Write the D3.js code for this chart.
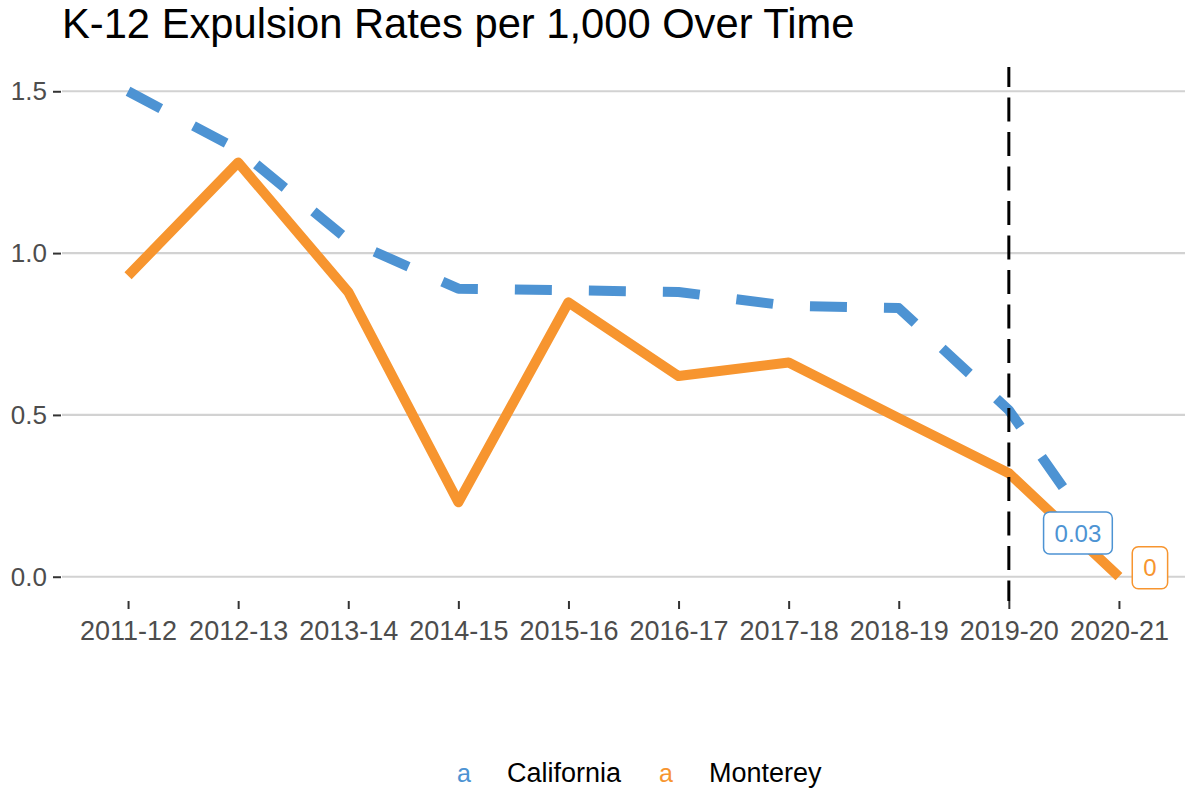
<!DOCTYPE html>
<html>
<head>
<meta charset="utf-8">
<script src="https://cdn.jsdelivr.net/npm/d3@7"></script>
<style>
	body { margin: 0; background: #fff; }
	svg { display: block; font-family: "Liberation Sans", Arial, sans-serif; }
</style>
</head>
<body>
<div id="chart"></div>
<script>
// data
var years = ['2011-12', '2012-13', '2013-14', '2014-15', '2015-16', '2016-17', '2017-18', '2018-19', '2019-20', '2020-21'];
var california = [1.50, 1.32, 1.04, 0.89, 0.885, 0.88, 0.837, 0.83, 0.515, 0.03];
var monterey = [0.93, 1.28, 0.88, 0.23, 0.848, 0.62, 0.662, 0.49, 0.32, 0];
var yTicks = [0, 0.5, 1.0, 1.5];
var seriesNames = ['California', 'Monterey'];
var markerYear = '2019-20';

var Chart = {

	WIDTH: 1186,
	HEIGHT: 794,
	PANEL: { left: 62, right: 1185, top: 67, bottom: 601 },
	COLORS: { California: '#4d93d3', Monterey: '#f7952f' },
	AXIS_TEXT: '#4d4d4d',

	init: function() {
		var svg = d3.select('#chart').append('svg')
			.attr('width', Chart.WIDTH)
			.attr('height', Chart.HEIGHT);

		var x = d3.scalePoint()
			.domain(years)
			.range([Chart.PANEL.left, Chart.PANEL.right])
			.padding(0.6);

		var y = d3.scaleLinear()
			.domain([-0.075, 1.575])
			.range([Chart.PANEL.bottom, Chart.PANEL.top]);

		var series = [
			{ name: 'California', values: california, dash: '37,37' },
			{ name: 'Monterey', values: monterey, dash: null }
		];

		Chart.drawTitle(svg);
		Chart.drawGrid(svg, y);
		Chart.drawAxes(svg, x, y);
		Chart.drawLines(svg, x, y, series);
		Chart.drawMarker(svg, x);
		Chart.drawLabels(svg, x, y, series);
		Chart.drawLegend(svg);
	},

	drawTitle: function(svg) {
		svg.append('text')
			.attr('x', 62)
			.attr('y', 38)
			.style('font-size', '41.7px')
			.style('fill', '#000')
			.text('K-12 Expulsion Rates per 1,000 Over Time');
	},

	// horizontal major gridlines only
	drawGrid: function(svg, y) {
		svg.append('g').selectAll('line')
			.data(yTicks)
			.enter()
			.append('line')
			.attr('x1', Chart.PANEL.left)
			.attr('x2', Chart.PANEL.right)
			.attr('y1', function(d) { return y(d); })
			.attr('y2', function(d) { return y(d); })
			.style('stroke', '#d2d2d2')
			.style('stroke-width', 2.2);
	},

	drawAxes: function(svg, x, y) {
		var yAxis = svg.append('g')
			.attr('transform', 'translate(' + (Chart.PANEL.left - 1) + ',0)')
			.call(d3.axisLeft(y).tickValues(yTicks).tickFormat(d3.format('.1f')).tickSize(8).tickPadding(6));

		var xAxis = svg.append('g')
			.attr('transform', 'translate(0,' + Chart.PANEL.bottom + ')')
			.call(d3.axisBottom(x).tickSize(8).tickPadding(12));

		[xAxis, yAxis].forEach(function(g) {
			g.select('.domain').remove();
			g.selectAll('.tick line').style('stroke', '#333').style('stroke-width', 2);
			g.selectAll('.tick text')
				.style('font-family', '"Liberation Sans", Arial, sans-serif')
				.style('font-size', '26px')
				.style('fill', Chart.AXIS_TEXT);
		});
		xAxis.selectAll('.tick text').style('font-size', '27px');
	},

	drawLines: function(svg, x, y, series) {
		var line = d3.line()
			.x(function(d, i) { return x(years[i]); })
			.y(function(d) { return y(d); });

		svg.append('g').selectAll('path')
			.data(series)
			.enter()
			.append('path')
			.attr('d', function(d) { return line(d.values); })
			.style('fill', 'none')
			.style('stroke', function(d) { return Chart.COLORS[d.name]; })
			.style('stroke-width', 10)
			.style('stroke-linejoin', 'round')
			.style('stroke-linecap', 'butt')
			.style('stroke-dasharray', function(d) { return d.dash; });
	},

	// dashed vertical marker at the covid year
	drawMarker: function(svg, x) {
		svg.append('line')
			.attr('x1', x(markerYear))
			.attr('x2', x(markerYear))
			.attr('y1', Chart.PANEL.top)
			.attr('y2', Chart.PANEL.bottom)
			.style('stroke', '#000')
			.style('stroke-width', 3)
			.style('stroke-dasharray', '24,10.5')
			.style('stroke-dashoffset', 4);
	},

	// boxed end-of-line value labels
	drawLabels: function(svg, x, y, series) {
		var offsets = { California: [-41, -34], Monterey: [31, -9] };
		var last = years.length - 1;

		series.forEach(function(s) {
			var v = s.values[last];
			var cx = x(years[last]) + offsets[s.name][0];
			var cy = y(v) + offsets[s.name][1];
			var g = svg.append('g');
			var rect = g.append('rect');
			var txt = g.append('text')
				.attr('x', cx)
				.attr('y', cy + 8.5)
				.attr('text-anchor', 'middle')
				.style('font-size', '24px')
				.style('fill', Chart.COLORS[s.name])
				.text(d3.format('')(+v.toFixed(2)));
			var w = txt.node().getComputedTextLength() + 22;
			rect.attr('x', cx - w / 2)
				.attr('y', cy - 21)
				.attr('width', w)
				.attr('height', 42)
				.attr('rx', 6)
				.style('fill', '#fff')
				.style('stroke', Chart.COLORS[s.name])
				.style('stroke-width', 1.5);
		});
	},

	drawLegend: function(svg) {
		var keyX = [464, 666];
		var g = svg.append('g');
		seriesNames.forEach(function(name, i) {
			g.append('text')
				.attr('x', keyX[i])
				.attr('y', 782)
				.attr('text-anchor', 'middle')
				.style('font-size', '25px')
				.style('fill', Chart.COLORS[name])
				.text('a');
			g.append('text')
				.attr('x', keyX[i] + 43)
				.attr('y', 782)
				.style('font-size', '27px')
				.style('fill', '#000')
				.text(name);
		});
	}
};

Chart.init();
</script>
</body>
</html>
